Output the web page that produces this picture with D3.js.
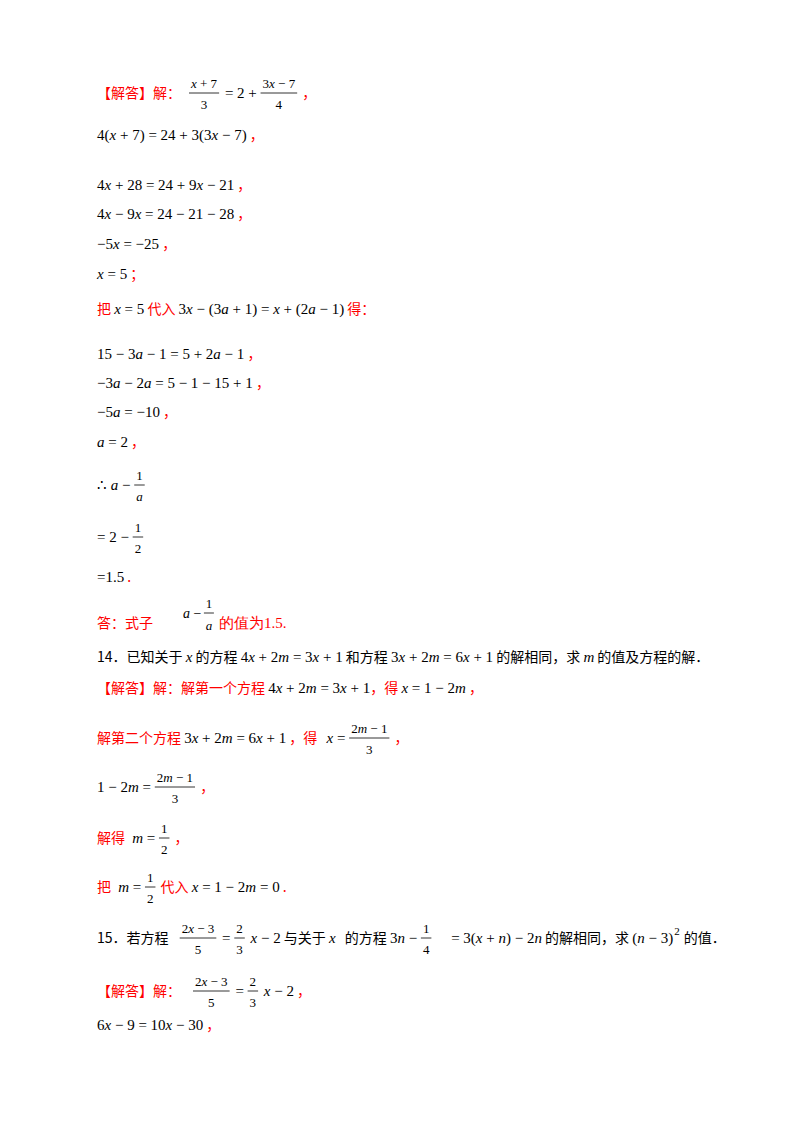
<!DOCTYPE html>
<html><head><meta charset="utf-8">
<script src="https://cdn.jsdelivr.net/npm/d3@7"></script>
<style>body{margin:0;background:#fff} text{white-space:pre}</style></head>
<body><svg id="c" width="800" height="1132"></svg>
<script>
const R="#ff0000";
// text segments: c = colour ('r' red, 'k' black), m = math font
const T=(s,c,m,dx)=>({t:"text",s,c,m,dx:dx||0});
const F=(n,d,dx)=>({t:"frac",n,d,dx:dx||0});
const S=(s)=>({t:"sup",s,dx:0});
const lines=[
 {y:98,segs:[T("【解答】解：","r"),F("x + 7","3",8),T(" = 2 + ","k",1),F("3x − 7","4"),T(" ，","r",0)]},
 {y:140,segs:[T("4(x + 7) = 24 + 3(3x − 7)","k",1),T(" ，","r")]},
 {y:190,segs:[T("4x + 28 = 24 + 9x − 21","k",1),T(" ，","r")]},
 {y:219,segs:[T("4x − 9x = 24 − 21 − 28","k",1),T(" ，","r")]},
 {y:249,segs:[T("−5x = −25","k",1),T(" ，","r")]},
 {y:279,segs:[T("x = 5","k",1),T(" ；","r")]},
 {y:314,segs:[T("把 ","r"),T("x = 5","k",1),T(" 代入 ","r"),T("3x − (3a + 1) = x + (2a − 1)","k",1),T(" 得：","r")]},
 {y:359,segs:[T("15 − 3a − 1 = 5 + 2a − 1","k",1),T(" ，","r")]},
 {y:388,segs:[T("−3a − 2a = 5 − 1 − 15 + 1","k",1),T(" ，","r")]},
 {y:417,segs:[T("−5a = −10","k",1),T(" ，","r")]},
 {y:447,segs:[T("a = 2","k",1),T(" ，","r")]},
 {y:490,segs:[T("∴ a − ","k",1),F("1","a")]},
 {y:542,segs:[T("= 2 − ","k",1),F("1","2")]},
 {y:582,segs:[T("=1.5","k",1),T(" .","r")]},
 {y:628,segs:[T("答：式子","r"),F("a − 1","",30),T("的值为1.5.","r",-2)]},
 {y:662,segs:[T("14．已知关于 ","k"),T("x","k",1),T(" 的方程 ","k"),T("4x + 2m = 3x + 1","k",1),T(" 和方程 ","k"),T("3x + 2m = 6x + 1","k",1),T(" 的解相同，求 ","k"),T("m","k",1),T(" 的值及方程的解．","k")]},
 {y:693,segs:[T("【解答】解：解第一个方程 ","r"),T("4x + 2m = 3x + 1","k",1),T("，得 ","r"),T("x = 1 − 2m","k",1),T(" ，","r")]},
 {y:743,segs:[T("解第二个方程 ","r"),T("3x + 2m = 6x + 1","k",1),T(" ，得 ","r"),T("x = ","k",1,6),F("2m − 1","3"),T(" ，","r")]},
 {y:792,segs:[T("1 − 2m = ","k",1),F("2m − 1","3"),T(" ，","r")]},
 {y:843,segs:[T("解得 ","r"),T("m = ","k",1,4),F("1","2"),T(" ，","r")]},
 {y:892,segs:[T("把 ","r"),T("m = ","k",1,4),F("1","2"),T(" 代入 ","r"),T("x = 1 − 2m = 0","k",1),T(" .","r")]},
 {y:943,segs:[T("15．若方程 ","k"),F("2x − 3","5",8),T(" = ","k",1),F("2","3"),T(" x − 2","k",1),T(" 与关于 ","k"),T("x","k",1),T(" 的方程 ","k",0,6),T("3n − ","k",1),F("1","4"),T(" = 3(x + n) − 2n","k",1,14),T(" 的解相同，求 ","k"),T("(n − 3)","k",1),S("2"),T(" 的值．","k")]},
 {y:996,segs:[T("【解答】解：","r"),F("2x − 3","5",12),T(" = ","k",1),F("2","3"),T(" x − 2","k",1),T(" ，","r")]},
 {y:1030,segs:[T("6x − 9 = 10x − 30","k",1),T(" ，","r")]}
];
const X0=97;
const svg=d3.select("#c");
const CJK="'Noto Sans CJK SC',sans-serif", MF="'Liberation Serif','Times New Roman',serif";
function mathText(sel,s){
  const parts=s.match(/[a-zA-Z]+|[^a-zA-Z]+/g)||[];
  parts.forEach(p=>sel.append("tspan").text(p).attr("font-style",/[a-zA-Z]/.test(p)?"italic":"normal"));
}
function addText(x,y,s,c,m,size,anchor){
  const t=svg.append("text").attr("x",x).attr("y",y).attr("fill",c==="r"?R:"#000")
    .attr("font-family",m?MF:CJK).attr("font-size",size||(m?15:14)).attr("text-anchor",anchor||"start");
  if(m) mathText(t,s); else t.text(s);
  return t;
}
lines.forEach(L=>{
  let x=X0;
  L.segs.forEach(g=>{
    x+=g.dx;
    if(g.t==="text"){
      const t=addText(x,L.y,g.s,g.c,g.m);
      x+=t.node().getComputedTextLength();
    } else if(g.t==="sup"){
      const t=addText(x+1,L.y-8,g.s,"k",1,11);
      x+=t.node().getComputedTextLength()+2;
    } else {
      let n=g.n,d=g.d;
      if(d===""){
        const a=addText(x,L.y-10,"a − ","k",1,14);
        const ax=x+a.node().getComputedTextLength();
        addText(ax+4,L.y-20,"1","k",1,13,"middle");
        addText(ax+4,L.y+2,"a","k",1,13,"middle");
        svg.append("line").attr("x1",ax-1).attr("x2",ax+9).attr("y1",L.y-15).attr("y2",L.y-15).attr("stroke","#000").attr("stroke-width",0.8);
        x=ax+14;
        return;
      }
      const tn=addText(0,L.y-10,n,"k",1,13,"middle"), td=addText(0,L.y+11,d,"k",1,13,"middle");
      const w=Math.max(tn.node().getComputedTextLength(),td.node().getComputedTextLength())+4;
      tn.attr("x",x+w/2); td.attr("x",x+w/2);
      svg.append("line").attr("x1",x).attr("x2",x+w).attr("y1",L.y-5).attr("y2",L.y-5).attr("stroke","#000").attr("stroke-width",0.8);
      x+=w+2;
    }
  });
});
</script></body></html>
